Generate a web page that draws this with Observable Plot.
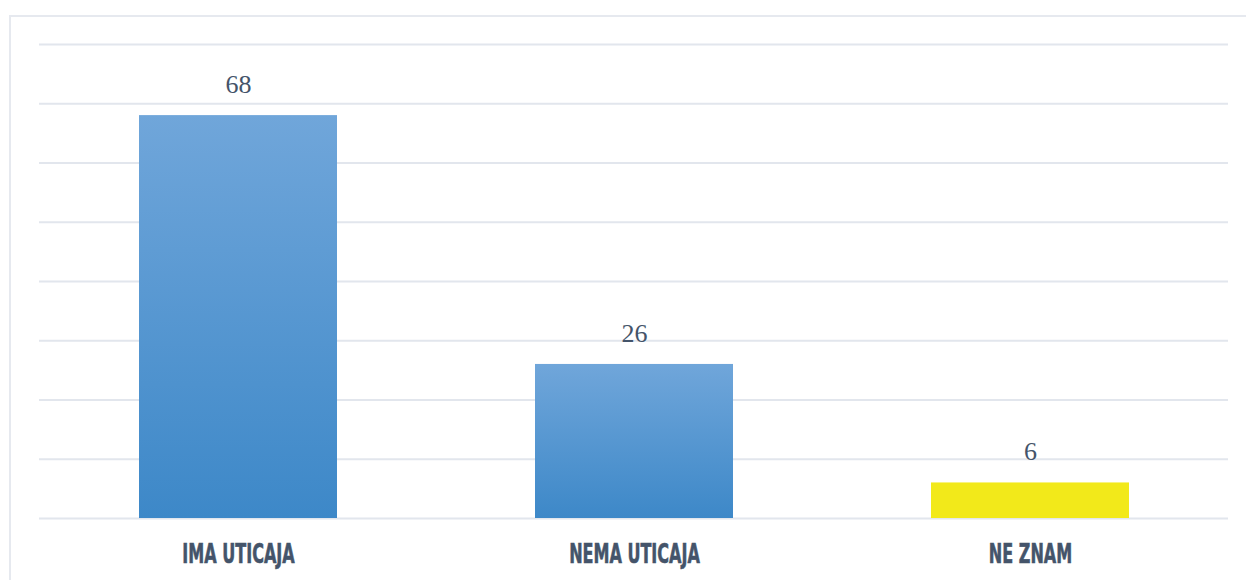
<!DOCTYPE html>
<html>
<head>
<meta charset="utf-8">
<script src="https://cdn.jsdelivr.net/npm/d3@7"></script>
<script src="https://cdn.jsdelivr.net/npm/@observablehq/plot@0.6"></script>
<style>
  html, body { margin: 0; padding: 0; background: #fff; overflow: hidden; }
  #wrap { position: relative; width: 1246px; height: 580px; }
  #frame { position: absolute; left: 9px; top: 15px; width: 1300px; height: 700px;
           border: 2px solid #e6e9ef; box-sizing: border-box; pointer-events: none; }
  #chart { position: absolute; left: 0; top: 0; }
</style>
</head>
<body>
<div id="wrap"><div id="frame"></div><div id="chart"></div></div>
<script>
const categories = ["IMA UTICAJA", "NEMA UTICAJA", "NE ZNAM"];
const values = [68, 26, 6];
const barColors = ["url(#blueGrad)", "url(#blueGrad)", "#f2e91a"];
const yTicks = [0, 10, 20, 30, 40, 50, 60, 70, 80];

const data = categories.map((c, i) => ({ category: c, value: values[i], fill: barColors[i] }));

const defs = () => {
  const svg = d3.create("svg:g");
  const g = svg.append("defs").append("linearGradient")
    .attr("id", "blueGrad").attr("x1", 0).attr("y1", 0).attr("x2", 0).attr("y2", 1);
  g.append("stop").attr("offset", "0%").attr("stop-color", "#70a6da");
  g.append("stop").attr("offset", "100%").attr("stop-color", "#3d88c8");
  return svg.node();
};

const chart = Plot.plot({
  width: 1246,
  height: 580,
  marginLeft: 39,
  marginRight: 18,
  marginTop: 44,
  marginBottom: 62,
  style: { background: "transparent", overflow: "visible" },
  x: { domain: categories, paddingInner: 0.5, paddingOuter: 0.25, label: null },
  y: { domain: [0, 80], label: null, axis: null },
  marks: [
    defs,
    Plot.ruleY(yTicks, { stroke: "#e2e6ed", strokeWidth: 2 }),
    Plot.barY(data, { x: "category", y: "value", fill: d => d.fill }),
    Plot.text(data, { x: "category", y: "value", text: d => String(d.value), dy: -31,
      fontSize: 26, fill: "#44546a", fontFamily: "Liberation Serif, DejaVu Serif, serif" }),
    Plot.axisX({ tickSize: 0, tickPadding: 25, fontSize: 27, fontWeight: "bold",
      fill: "#44546a", fontFamily: "DejaVu Sans Condensed, sans-serif",
      label: null })
  ]
});
document.getElementById("chart").appendChild(chart);
// narrow the category labels to mimic a tall condensed display face
d3.select(chart).selectAll("g[aria-label='x-axis tick label'] text")
  .attr("transform", function () {
    const t = this.getAttribute("transform") || "";
    return t + " scale(0.66,1)";
  })
  .style("stroke", "#44546a").style("stroke-width", "0.6px");
</script>
</body>
</html>
